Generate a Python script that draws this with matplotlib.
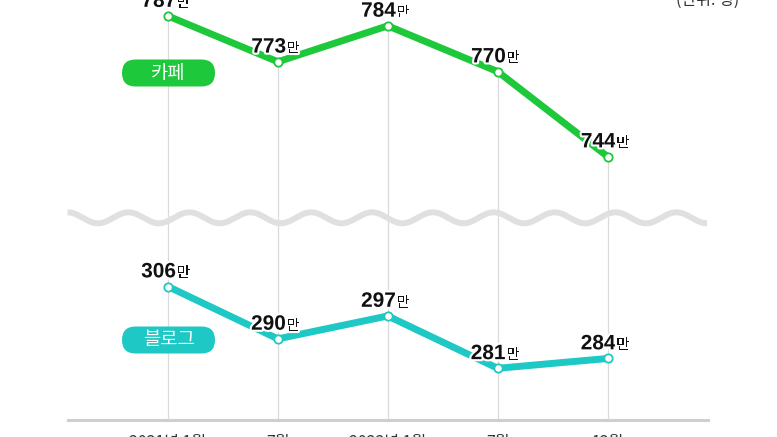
import matplotlib

matplotlib.use("Agg")

import matplotlib.pyplot as plt
import matplotlib.patheffects as pe
import numpy as np
from matplotlib.patches import FancyBboxPatch

months = ["2021년 1월", "7월", "2022년 1월", "7월", "12월"]
cafe = [787, 773, 784, 770, 744]
blog = [306, 290, 297, 281, 284]
series_names = ["카페", "블로그"]
unit_text = "(단위: 명)"

CAFE_COLOR = "#1dc83a"
BLOG_COLOR = "#1ec8c4"
GRID_COLOR = "#dadada"
KR = ["Noto Sans CJK KR", "DejaVu Sans"]
NUM = ["Liberation Sans Narrow", "Liberation Sans", "DejaVu Sans"]

W, H = 777, 437
fig = plt.figure(figsize=(W / 100, H / 100), dpi=100)
x = np.arange(len(months))


def px_box(l, t, r, b):
    return [l / W, 1 - b / H, (r - l) / W, (b - t) / H]


ax_top = fig.add_axes(px_box(68, 0, 708, 217))
ax_bot = fig.add_axes(px_box(68, 217, 708, 420))
xlim = (-0.91, 4.914)
top_ylim = (725.5, 791.9)
bot_ylim = (265.2, 327.25)


def draw_series(ax, vals, color, ylim, full_grid):
    ax.set_xlim(*xlim)
    ax.set_ylim(*ylim)
    if full_grid:
        ax.vlines(x, ylim[0], ylim[1], color=GRID_COLOR, lw=0.9, zorder=1)
    else:
        ax.vlines(x, ylim[0], vals, color=GRID_COLOR, lw=0.9, zorder=1)
    ax.plot(x, vals, color=color, lw=5, solid_joinstyle="round", solid_capstyle="round",
            marker="o", ms=6, mfc="white", mec=color, mew=1.3, clip_on=False, zorder=3)
    halo = [pe.withStroke(linewidth=3, foreground="white")]
    for xi, v in zip(x, vals):
        ax.annotate(str(v), (xi, v), xytext=(5.8, 6.6), textcoords="offset points",
                    ha="right", va="baseline", fontsize=15, fontweight="bold",
                    family=NUM, color="#111111", path_effects=halo,
                    annotation_clip=False, zorder=5)
        ax.annotate("만", (xi, v), xytext=(6.2, 6.6), textcoords="offset points",
                    ha="left", va="baseline", fontsize=10.5, family=KR,
                    color="#111111", path_effects=halo,
                    annotation_clip=False, zorder=5)
    for s in ax.spines.values():
        s.set_visible(False)
    ax.set_yticks([])
    ax.patch.set_alpha(0)


draw_series(ax_top, cafe, CAFE_COLOR, top_ylim, False)
draw_series(ax_bot, blog, BLOG_COLOR, bot_ylim, True)
ax_top.set_xticks([])

ax_bot.spines["bottom"].set_visible(True)
ax_bot.spines["bottom"].set_color("#cfcfcf")
ax_bot.spines["bottom"].set_linewidth(2.2)
ax_bot.set_xticks(x, months)
ax_bot.tick_params(axis="x", length=0, pad=10)
for t in ax_bot.get_xticklabels():
    t.set_fontfamily(KR)
    t.set_fontsize(11.5)
    t.set_color("#333333")

# decorations in pixel coordinates
ov = fig.add_axes([0, 0, 1, 1], zorder=4)
ov.set_xlim(0, W)
ov.set_ylim(H, 0)
ov.axis("off")
ov.patch.set_alpha(0)

wx = np.linspace(67.5, 707, 800)
wy = 217.8 - 5.5 * np.cos(2 * np.pi * (wx - 67.5) / 60.9)
ov.plot(wx, wy, color="#e0e0e0", lw=4.3, solid_capstyle="butt")

for name, color, top in [(series_names[0], CAFE_COLOR, 59.5), (series_names[1], BLOG_COLOR, 326.5)]:
    ov.add_patch(FancyBboxPatch((122, top), 93, 27, boxstyle="round,pad=0,rounding_size=13.5",
                                fc=color, ec="none"))
    ov.text(168.5, top + 13.5, name, ha="center", va="center", fontsize=13.5,
            family=KR, color="white")

ov.text(708, 4.5, unit_text, ha="center", va="baseline", fontsize=11.5,
        family=KR, color="#333333")

fig.savefig("out.png", dpi=100)
plt.close(fig)
